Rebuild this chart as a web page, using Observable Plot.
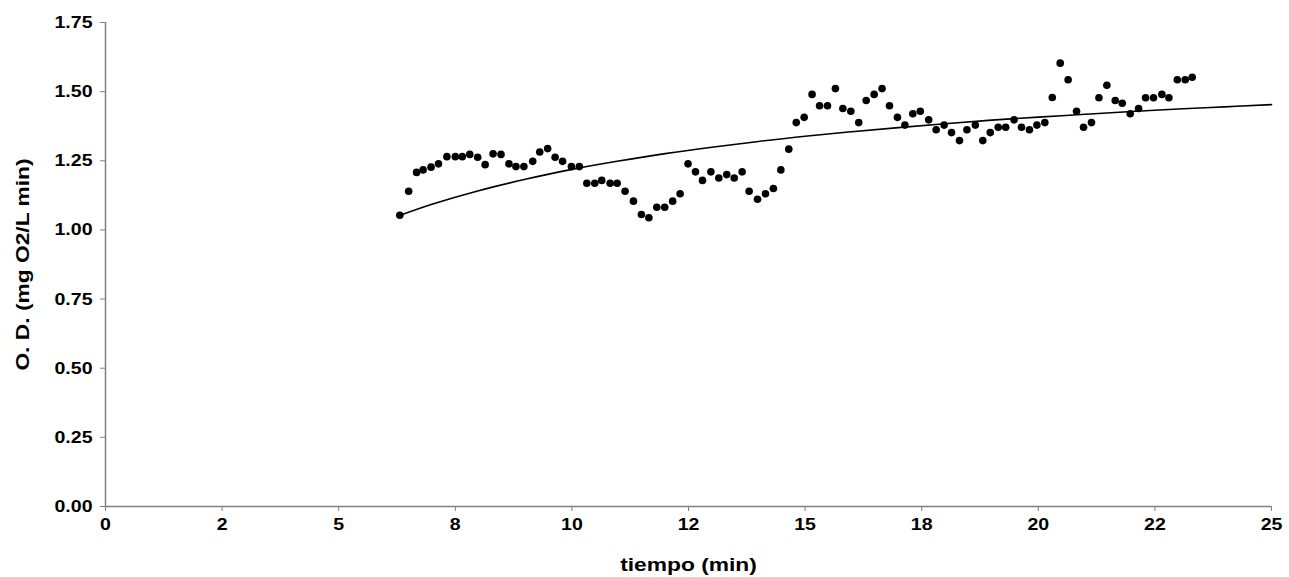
<!DOCTYPE html>
<html>
<head>
<meta charset="utf-8">
<script src="https://cdn.jsdelivr.net/npm/d3@7"></script>
<script src="https://cdn.jsdelivr.net/npm/@observablehq/plot@0.6"></script>
<style>
  html, body { margin: 0; padding: 0; background: #fff; }
  #chart svg { display: block; }
</style>
</head>
<body>
<div id="chart"></div>
<script>
// Measured data points (time in min, O.D. in mg O2/L min)
const tiempo = [6.31,6.50,6.67,6.81,6.98,7.14,7.32,7.50,7.65,7.81,7.98,8.14,8.31,8.48,8.65,8.80,8.97,9.16,9.31,9.48,9.64,9.80,9.99,10.16,10.32,10.49,10.64,10.82,10.97,11.14,11.32,11.49,11.65,11.82,11.99,12.16,12.32,12.49,12.65,12.80,12.98,13.15,13.32,13.48,13.65,13.80,13.98,14.15,14.32,14.48,14.65,14.81,14.98,15.15,15.31,15.48,15.65,15.81,15.98,16.15,16.31,16.48,16.65,16.81,16.98,17.14,17.31,17.47,17.65,17.81,17.98,18.14,18.31,18.47,18.65,18.81,18.97,19.14,19.30,19.48,19.64,19.81,19.97,20.14,20.30,20.47,20.64,20.82,20.97,21.14,21.30,21.47,21.65,21.80,21.97,22.15,22.30,22.47,22.65,22.80,22.98,23.15,23.30];
const od = [1.053,1.140,1.208,1.217,1.227,1.239,1.265,1.265,1.265,1.273,1.263,1.236,1.275,1.273,1.239,1.229,1.229,1.248,1.282,1.294,1.263,1.248,1.229,1.229,1.169,1.169,1.179,1.169,1.169,1.140,1.104,1.056,1.044,1.082,1.082,1.104,1.131,1.239,1.210,1.179,1.210,1.188,1.200,1.188,1.210,1.140,1.111,1.131,1.150,1.217,1.292,1.388,1.407,1.490,1.449,1.449,1.511,1.439,1.429,1.388,1.468,1.490,1.511,1.449,1.407,1.379,1.420,1.429,1.398,1.362,1.379,1.352,1.323,1.362,1.379,1.323,1.352,1.371,1.371,1.398,1.371,1.362,1.379,1.388,1.479,1.603,1.543,1.429,1.371,1.388,1.478,1.523,1.468,1.458,1.420,1.439,1.478,1.478,1.490,1.478,1.543,1.543,1.552];

// Fitted curve
const fitX = [6.3,7,8,9,10,11,12,13,14,15,16,17,18,19,20,21,22,23,24,25];
const fitY = [1.052,1.093,1.142,1.183,1.219,1.249,1.276,1.299,1.320,1.339,1.355,1.370,1.384,1.397,1.408,1.418,1.428,1.437,1.445,1.453];

// Axis ticks
const xTickValues = [0,2.5,5,7.5,10,12.5,15,17.5,20,22.5,25];
const xTickLabels = ["0","2","5","8","10","12","15","18","20","22","25"];
const yTickValues = [0,0.25,0.5,0.75,1,1.25,1.5,1.75];

const xLabel = "tiempo (min)";
const yLabel = "O. D. (mg O2/L min)";

const points = tiempo.map((t, i) => ({t, v: od[i]}));
const curve = fitX.map((t, i) => ({t, v: fitY[i]}));
const xLabelMap = new Map(xTickValues.map((v, i) => [v, xTickLabels[i]]));

const axisGray = "#808080";

const chart = Plot.plot({
  width: 1289,
  height: 577,
  marginLeft: 105,
  marginRight: 18,
  marginTop: 22,
  marginBottom: 71,
  style: {fontFamily: "'Liberation Sans', Arial, sans-serif", fontSize: "17px", fontWeight: "bold", color: "#000", background: "#fff"},
  x: {domain: [0, 25]},
  y: {domain: [0, 1.75]},
  marks: [
    Plot.ruleY([0], {x1: 0, x2: 25, stroke: axisGray, strokeWidth: 1.5}),
    Plot.ruleX([0], {y1: 0, y2: 1.75, stroke: axisGray, strokeWidth: 1.5}),
    Plot.axisX(xTickValues, {tickSize: 5, tickPadding: 6, stroke: axisGray, fill: "#000", tickFormat: d => xLabelMap.get(d), fontSize: 17, fontWeight: "bold", label: null}),
    Plot.axisY(yTickValues, {tickSize: 5, tickPadding: 8, stroke: axisGray, fill: "#000", tickFormat: d3.format(".2f"), fontSize: 17, fontWeight: "bold", label: null}),
    Plot.line(curve, {x: "t", y: "v", stroke: "#000", strokeWidth: 1.6, curve: "natural"}),
    Plot.dot(points, {x: "t", y: "v", r: 3.8, fill: "#000", stroke: "none"}),
    Plot.text([xLabel], {frameAnchor: "bottom", dy: 64, textAnchor: "middle", fontSize: 19, fontWeight: "bold", fill: "#000"}),
    Plot.text([yLabel], {frameAnchor: "left", dx: -83, rotate: -90, textAnchor: "middle", fontSize: 19, fontWeight: "bold", fill: "#000"})
  ]
});

// The reference's lettering is horizontally widened; stretch each label along its baseline.
d3.select(chart).selectAll("text").each(function() {
  const fs = parseFloat(this.getAttribute("font-size") || (this.parentNode && this.parentNode.getAttribute("font-size")) || 17);
  const sx = fs >= 19 ? 1.2 : 1.15;
  let t = this.getAttribute("transform") || "";
  const xa = this.getAttribute("x");
  if (xa !== null && !isNaN(+xa)) {
    t += ` translate(${+xa},0)`;
    this.removeAttribute("x");
  }
  this.setAttribute("transform", (t + ` scale(${sx},1)`).trim());
});

document.getElementById("chart").appendChild(chart);
</script>
</body>
</html>
